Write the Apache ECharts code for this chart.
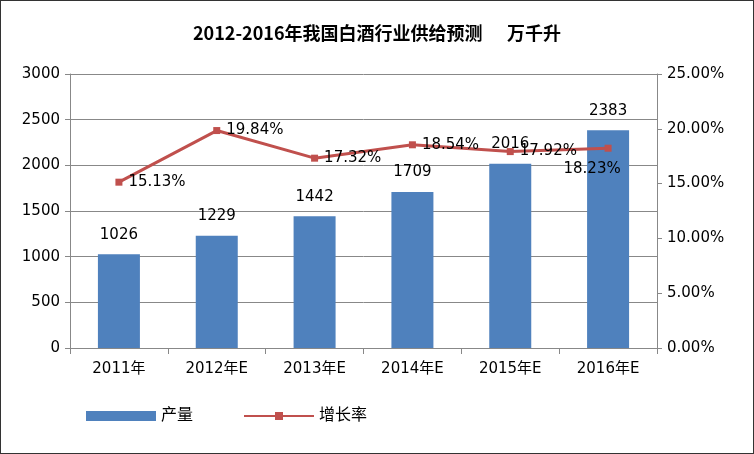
<!DOCTYPE html>
<html>
<head>
<meta charset="utf-8">
<script src="https://cdn.jsdelivr.net/npm/echarts@6/dist/echarts.min.js"></script>
<style>
  html, body { margin: 0; padding: 0; background: #fff; }
  #chart { width: 752px; height: 452px; border: 1px solid #333; }
</style>
</head>
<body>
<div id="chart"></div>
<script>
// 数据
const categories = ['2011年', '2012年E', '2013年E', '2014年E', '2015年E', '2016年E']
const output = [1026, 1229, 1442, 1709, 2016, 2383]
const growth = [15.13, 19.84, 17.32, 18.54, 17.92, 18.23]

const font = 'DejaVu Sans, Noto Sans CJK SC'
const chart = echarts.init(document.getElementById('chart'))

const lineLabel = {show: true, position: 'right', distance: 6, fontSize: 15, color: '#000', fontFamily: font,
    formatter: p => p.value.toFixed(2) + '%'}

chart.setOption({
    animation: false,
    title: {
        text: '2012-2016年我国白酒行业供给预测      万千升',
        left: 'center',
        top: 18,
        textStyle: {fontSize: 18, fontWeight: 'bold', color: '#000', fontFamily: 'Noto Sans CJK SC'}
    },
    grid: {left: 69, right: 96, top: 73, bottom: 105},
    legend: {
        left: 80,
        top: 402,
        itemGap: 50,
        textStyle: {fontSize: 16, color: '#000', fontFamily: font},
        data: [{name: '产量', icon: 'rect'}, {name: '增长率'}],
        itemWidth: 70,
        itemHeight: 10
    },
    xAxis: {
        type: 'category',
        data: categories,
        axisLine: {lineStyle: {color: '#888'}},
        axisTick: {show: true, length: 6, lineStyle: {color: '#888'}},
        axisLabel: {fontSize: 15, color: '#000', fontFamily: font, margin: 14}
    },
    yAxis: [
        {
            type: 'value', min: 0, max: 3000, interval: 500,
            axisLine: {show: true, lineStyle: {color: '#888'}},
            axisTick: {show: true, lineStyle: {color: '#888'}},
            axisLabel: {fontSize: 15, color: '#000', fontFamily: font, margin: 10,
                formatter: v => String(v)},
            splitLine: {lineStyle: {color: '#888'}}
        },
        {
            type: 'value', min: 0, max: 25, interval: 5,
            axisLine: {show: true, lineStyle: {color: '#888'}},
            axisTick: {show: true, lineStyle: {color: '#888'}},
            axisLabel: {fontSize: 15, color: '#000', fontFamily: font, margin: 10,
                formatter: v => v.toFixed(2) + '%'},
            splitLine: {show: false}
        }
    ],
    series: [
        {
            name: '产量',
            type: 'bar',
            data: output,
            barWidth: 42,
            itemStyle: {color: '#4F81BD'},
            label: {show: true, position: 'top', distance: 12, fontSize: 15, color: '#000', fontFamily: font}
        },
        {
            name: '增长率',
            type: 'line',
            yAxisIndex: 1,
            data: growth.map((v, i) => i === growth.length - 1
                ? {value: v, label: Object.assign({}, lineLabel, {position: 'bottom', distance: 10, offset: [-16, 0]})}
                : v),
            symbol: 'rect',
            symbolSize: 7,
            lineStyle: {color: '#C0504D', width: 3},
            itemStyle: {color: '#C0504D'},
            label: lineLabel
        }
    ]
})
</script>
</body>
</html>
